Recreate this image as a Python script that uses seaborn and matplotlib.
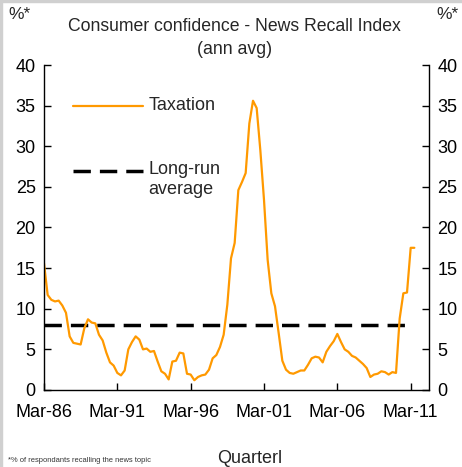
import numpy as np
import pandas as pd
import matplotlib
matplotlib.use("Agg")
import matplotlib.pyplot as plt
import seaborn as sns
from matplotlib.lines import Line2D
from matplotlib.patches import Rectangle

# Quarterly index (0 = Mar-86)
quarters = list(range(102))
taxation = [15.6, 11.7, 11.1, 10.9, 11.0, 10.4, 9.5, 6.6, 5.8, 5.7,
            5.6, 7.6, 8.7, 8.3, 8.2, 6.8, 6.1, 4.6, 3.4, 3.0,
            2.1, 1.8, 2.4, 5.0, 5.9, 6.6, 6.2, 5.0, 5.1, 4.7,
            4.8, 3.5, 2.3, 2.0, 1.3, 3.5, 3.6, 4.6, 4.5, 2.0,
            1.9, 1.2, 1.6, 1.8, 1.9, 2.5, 3.9, 4.3, 5.3, 6.8,
            10.5, 16.2, 18.1, 24.6, 25.6, 26.7, 32.8, 35.6, 34.7, 29.5,
            23.4, 16.0, 11.9, 10.3, 7.0, 3.6, 2.5, 2.1, 2.0, 2.2,
            2.4, 2.4, 3.1, 3.9, 4.1, 4.0, 3.4, 4.7, 5.4, 6.0,
            6.9, 5.9, 5.0, 4.7, 4.2, 4.0, 3.6, 3.2, 2.7, 1.6,
            1.9, 2.0, 2.3, 2.2, 1.9, 2.2, 2.1, 8.8, 11.9, 12.0,
            17.5, 17.5]
avg_quarters = list(range(100))
long_run_avg = [8.0] * len(avg_quarters)

tick_positions = [0, 20, 40, 60, 80, 100]
tick_labels = ["Mar-86", "Mar-91", "Mar-96", "Mar-01", "Mar-06", "Mar-11"]
y_ticks = [0, 5, 10, 15, 20, 25, 30, 35, 40]

sns.set_theme(style="white")
plt.rcParams['font.family'] = ['Liberation Sans', 'DejaVu Sans']

df = pd.DataFrame({"q": quarters, "v": taxation})
df_avg = pd.DataFrame({"q": avg_quarters, "v": long_run_avg})

fig = plt.figure(figsize=(4.62, 4.67), dpi=100)
ax = fig.add_axes([0.0952, 0.1649, 0.8334, 0.6959])

orange = "#FF9900"
sns.lineplot(data=df_avg, x="q", y="v", ax=ax, color="black", linewidth=2.5,
             dashes=False)
ax.lines[-1].set_dashes((5, 2.6))
sns.lineplot(data=df, x="q", y="v", ax=ax, color=orange, linewidth=1.6)

ax.set_xlim(0, 105)
ax.set_ylim(0, 40)
ax.set_xticks(tick_positions)
ax.set_xticklabels(tick_labels)
ax.set_yticks(y_ticks)
ax.set_yticklabels([str(t) for t in y_ticks])
ax.set_xlabel("")
ax.set_ylabel("")
for s in ["left", "right", "bottom"]:
    ax.spines[s].set_visible(True)
    ax.spines[s].set_color("black")
    ax.spines[s].set_linewidth(1.0)
ax.spines["top"].set_visible(False)
ax.tick_params(axis="both", direction="in", length=5, width=1, colors="black",
               labelsize=13, pad=6)
ax.tick_params(axis="y", left=True, right=True, labelleft=True, labelright=True)
ax.tick_params(axis="x", bottom=True, pad=10)

# in-plot legend
ax.add_line(Line2D([8, 27], [35, 35], color=orange, lw=1.6))
ax.text(28.5, 35, "Taxation", fontsize=13, va="center", ha="left")
l2 = Line2D([8, 27], [27, 27], color="black", lw=2.5)
l2.set_dashes((5, 2.6))
ax.add_line(l2)
ax.text(28.5, 28.2, "Long-run\naverage", fontsize=13, va="top", ha="left",
        linespacing=1.25)

fig.text(0.507, 0.944, "Consumer confidence - News Recall Index", fontsize=12.7,
         ha="center", va="center")
fig.text(0.507, 0.895, "(ann avg)", fontsize=12.7, ha="center", va="center")
fig.text(0.018, 0.968, "%*", fontsize=12.5, ha="left", va="center")
fig.text(0.945, 0.968, "%*", fontsize=12.5, ha="left", va="center")
fig.text(0.54, 0.019, "Quarterl", fontsize=13, ha="center", va="center")
fig.text(0.017, 0.013, "*% of respondants recalling the news topic", fontsize=5.4,
         ha="left", va="center", color="#333333")

# light grey frame on left and top
fig.patches.append(Rectangle((0, 0), 0.005, 1, transform=fig.transFigure,
                             color="#d0d0d0", zorder=0))
fig.patches.append(Rectangle((0, 0.995), 1, 0.005, transform=fig.transFigure,
                             color="#d0d0d0", zorder=0))

fig.savefig("out.png", dpi=100)
